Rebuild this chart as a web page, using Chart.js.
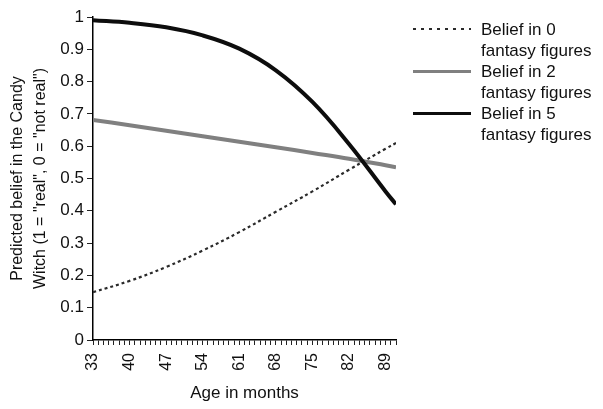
<!DOCTYPE html>
<html>
<head>
<meta charset="utf-8">
<script src="https://cdn.jsdelivr.net/npm/chart.js@4"></script>
<style>
    body { margin: 0; background: #fff; }
    #wrap { position: relative; width: 603px; height: 409px; }
    #legend { position: absolute; left: 413px; top: 19px; font-family: 'Liberation Sans', Arial, sans-serif; font-size: 17px; line-height: 21px; color: #111; }
    .legend-item { display: flex; align-items: flex-start; }
    .legend-line { width: 58px; margin-top: 9px; margin-right: 10px; }
</style>
</head>
<body>
<div id="wrap">
    <canvas id="chart" width="603" height="409"></canvas>
    <div id="legend"></div>
</div>
<script>
// Idade em meses (eixo x) e crenças previstas
const ages = [33, 40, 47, 54, 61, 68, 75, 82, 89, 91];
const belief0 = [0.148, 0.183, 0.226, 0.277, 0.334, 0.397, 0.46, 0.527, 0.592, 0.61];
const belief2 = [0.681, 0.665, 0.648, 0.631, 0.614, 0.597, 0.579, 0.561, 0.541, 0.535];
const belief5 = [0.99, 0.982, 0.968, 0.943, 0.902, 0.835, 0.737, 0.607, 0.46, 0.42];
const seriesLabels = ['Belief in 0 fantasy figures', 'Belief in 2 fantasy figures', 'Belief in 5 fantasy figures'];
const majorTicks = [33, 40, 47, 54, 61, 68, 75, 82, 89];

const fontFamily = "'Liberation Sans', Arial, sans-serif";
const textColor = '#111';

const toPoints = (values) => values.map((v, i) => ({ x: ages[i], y: v }));

const datasets = [
    { label: seriesLabels[0], data: toPoints(belief0), borderColor: '#2a2a2a', borderWidth: 2.2, borderDash: [3, 3], order: 2 },
    { label: seriesLabels[1], data: toPoints(belief2), borderColor: '#808080', borderWidth: 4, order: 1 },
    { label: seriesLabels[2], data: toPoints(belief5), borderColor: '#0d0d0d', borderWidth: 4, order: 0 },
];
datasets.forEach(ds => {
    ds.pointRadius = 0;
    ds.fill = false;
    ds.tension = 0.4;
});

const ctx = document.getElementById('chart').getContext('2d');
const chart = new Chart(ctx, {
    type: 'line',
    data: { datasets: datasets },
    options: {
        responsive: false,
        animation: false,
        layout: { padding: { top: 17, right: 207, bottom: 0, left: 0 } },
        plugins: { legend: { display: false }, tooltip: { enabled: false } },
        scales: {
            x: {
                type: 'linear',
                min: 33,
                max: 91,
                ticks: {
                    stepSize: 1,
                    maxTicksLimit: 100,
                    autoSkip: false,
                    minRotation: 90,
                    maxRotation: 90,
                    padding: 8,
                    color: textColor,
                    font: { family: fontFamily, size: 16 },
                    callback: (v) => majorTicks.includes(v) ? String(v) : '',
                },
                grid: { drawOnChartArea: false, drawTicks: true, tickLength: 5, tickColor: '#222', tickWidth: 1 },
                border: { display: true, color: '#000', width: 1.5 },
                title: {
                    display: true,
                    text: 'Age in months',
                    color: textColor,
                    font: { family: fontFamily, size: 17 },
                    padding: { top: 2, bottom: 5 },
                },
                afterFit: (scale) => { scale.height = 69; },
            },
            y: {
                min: 0,
                max: 1,
                ticks: {
                    stepSize: 0.1,
                    padding: 3,
                    color: textColor,
                    font: { family: fontFamily, size: 17 },
                    callback: (v) => String(Number(v.toFixed(1))),
                },
                grid: { drawOnChartArea: false, drawTicks: true, tickLength: 6, tickColor: '#222', tickWidth: 1 },
                border: { display: true, color: '#000', width: 1.5 },
                title: {
                    display: true,
                    text: ['Predicted belief in the Candy', 'Witch (1 = "real", 0 = "not real")'],
                    color: textColor,
                    font: { family: fontFamily, size: 16, lineHeight: 1.38 },
                    padding: { top: 7, bottom: 0 },
                },
                afterFit: (scale) => { scale.width = 93; },
            },
        },
    },
});

// Legenda em HTML, montada a partir dos datasets
const legendEl = document.getElementById('legend');
chart.data.datasets.forEach(ds => {
    const item = document.createElement('div');
    item.className = 'legend-item';

    const line = document.createElement('div');
    line.className = 'legend-line';
    if (ds.borderDash) {
        line.style.height = '2px';
        line.style.background = `repeating-linear-gradient(to right, ${ds.borderColor} 0 3px, transparent 3px 8px)`;
    } else {
        line.style.height = (ds.borderWidth - 1) + 'px';
        line.style.background = ds.borderColor;
    }

    const text = document.createElement('div');
    const words = ds.label.split(' ');
    text.innerHTML = words.slice(0, 3).join(' ') + '<br>' + words.slice(3).join(' ');

    item.appendChild(line);
    item.appendChild(text);
    legendEl.appendChild(item);
});
</script>
</body>
</html>
